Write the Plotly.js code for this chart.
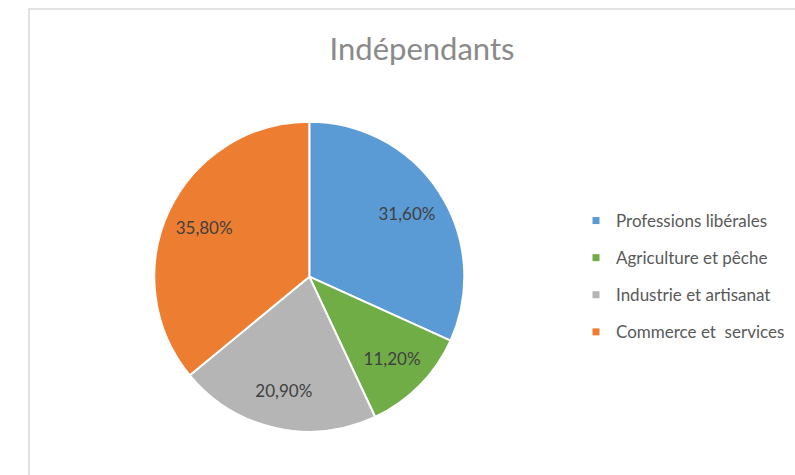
<!DOCTYPE html>
<html><head><meta charset="utf-8">
<script src="https://cdn.plot.ly/plotly-3.0.1.min.js"></script>
<style>html,body{margin:0;padding:0;background:#fff}</style>
</head><body>
<div id="chart" style="width:795px;height:475px"></div>
<script>
var categories = ['Professions libérales', 'Agriculture et pêche', 'Industrie et artisanat', 'Commerce et  services'];
var values = [31.6, 11.2, 20.9, 35.8];
var colors = ['#5B9BD5', '#70AD47', '#B5B5B5', '#ED7D31'];
var labelsText = values.map(function(v){ return v.toFixed(2).replace('.', ',') + '%'; });

var W = 795, H = 475, cx = 309.3, cy = 276.7, R = 155;
var dom = {x: [(cx - R) / W, (cx + R) / W], y: [1 - (cy + R) / H, 1 - (cy - R) / H]};
var FONT = 'Lato, "Open Sans", sans-serif';

var traces = [{
  type: 'pie',
  labels: categories,
  values: values,
  textinfo: 'none',
  sort: false,
  direction: 'clockwise',
  rotation: 0,
  marker: {colors: colors, line: {color: '#ffffff', width: 2}},
  showlegend: false,
  hoverinfo: 'label+percent',
  domain: dom
}, {
  // transparent ring that only carries the data labels, placing them further out
  type: 'pie',
  labels: categories,
  values: values,
  text: labelsText,
  textinfo: 'text',
  textposition: 'inside',
  insidetextorientation: 'horizontal',
  hole: 0.5,
  sort: false,
  direction: 'clockwise',
  rotation: 0,
  marker: {colors: ['rgba(0,0,0,0)','rgba(0,0,0,0)','rgba(0,0,0,0)','rgba(0,0,0,0)'], line: {width: 0}},
  textfont: {family: FONT, size: 17, color: '#404040'},
  showlegend: false,
  hoverinfo: 'skip',
  domain: dom
}];

categories.forEach(function(c, i){
  traces.push({
    type: 'scatter', mode: 'markers', x: [null], y: [null],
    name: c, legendgroup: 'g' + i,
    marker: {symbol: 'square', size: 7, color: colors[i]},
    hoverinfo: 'skip'
  });
});

var layout = {
  width: W, height: H,
  margin: {l: 0, r: 0, t: 0, b: 0, autoexpand: false},
  paper_bgcolor: '#ffffff', plot_bgcolor: 'rgba(0,0,0,0)',
  title: {text: 'Indépendants', x: 422 / W, xanchor: 'center', y: 1 - 49 / H, yanchor: 'middle', yref: 'container',
          font: {family: FONT, size: 31, color: '#8a8a8a'}},
  xaxis: {visible: false}, yaxis: {visible: false},
  showlegend: true,
  legend: {x: 576 / W, xanchor: 'left', y: 1 - 203 / H, yanchor: 'top', tracegroupgap: 12,
           itemwidth: 30, font: {family: FONT, size: 17, color: '#595959'},
           bgcolor: 'rgba(0,0,0,0)'},
  shapes: [{type: 'rect', xref: 'paper', yref: 'paper', x0: 29 / W, x1: 1.05, y0: -0.05, y1: 1 - 9 / H,
            line: {color: '#d9d9d9', width: 1.5}, fillcolor: 'rgba(0,0,0,0)', layer: 'below'}]
};

Plotly.newPlot('chart', traces, layout, {displayModeBar: false, staticPlot: true});
</script>
</body></html>
